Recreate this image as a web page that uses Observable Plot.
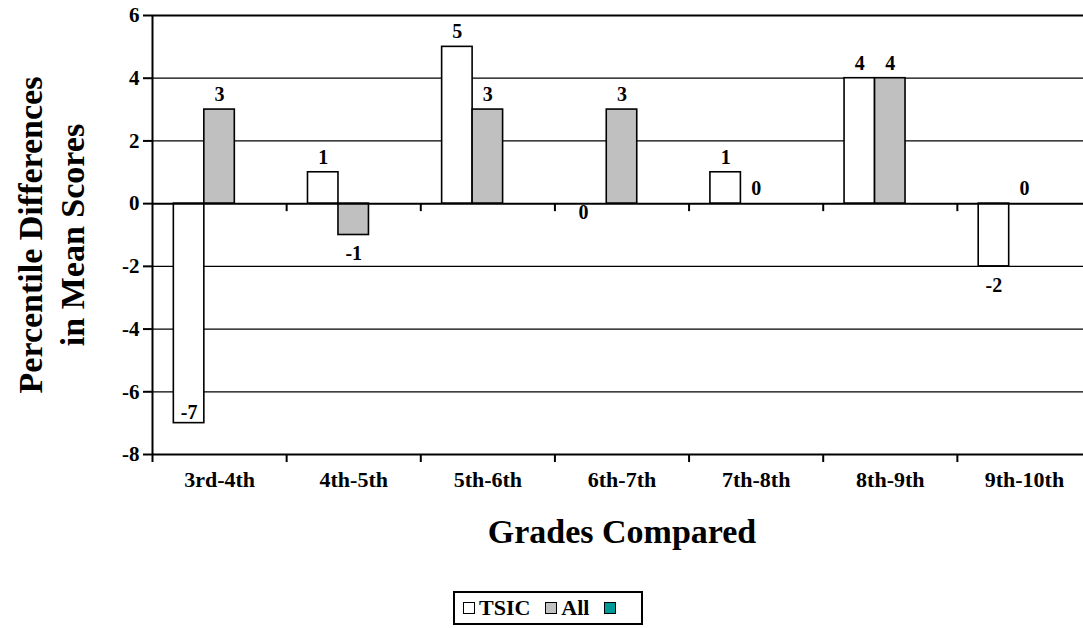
<!DOCTYPE html>
<html>
<head>
<meta charset="utf-8">
<script src="https://cdn.jsdelivr.net/npm/d3@7"></script>
<script src="https://cdn.jsdelivr.net/npm/@observablehq/plot@0.6"></script>
<style>
  html, body { margin: 0; padding: 0; background: #fff; }
  #wrap { width: 1083px; height: 628px; overflow: hidden; position: relative; font-family: "Liberation Serif", "Times New Roman", serif; }
  #legend { position: absolute; left: 453px; top: 591px; width: 190px; height: 34px; box-sizing: border-box;
            border: 2px solid #000; display: flex; align-items: center; padding-left: 8px;
            font-weight: bold; font-size: 22px; }
  #legend .sq { width: 10px; height: 10px; border: 1.5px solid #000; display: inline-block; margin-right: 4px; }
  #legend .lbl { margin-right: 15px; }
</style>
</head>
<body>
<div id="wrap"><div id="chart"></div><div id="legend"></div></div>
<script>
const categories = ["3rd-4th", "4th-5th", "5th-6th", "6th-7th", "7th-8th", "8th-9th", "9th-10th"];
const seriesNames = ["TSIC", "All", ""];
const tsicValues = [-7, 1, 5, 0, 1, 4, -2];
const allValues = [3, -1, 3, 3, 0, 4, 0];
const yTicks = [-8, -6, -4, -2, 0, 2, 4, 6];
const seriesColors = ["#ffffff", "#c0c0c0", "#009999"];

const rows = categories.flatMap((c, i) => [
  {cat: c, i, series: "TSIC", value: tsicValues[i]},
  {cat: c, i, series: "All", value: allValues[i]}
]);

// nested band within each category slot
const inner = d3.scaleBand().domain(seriesNames).range([0, 1]).paddingInner(0).paddingOuter(0.7);
const bx1 = d => d.i + inner(d.series);
const bx2 = d => d.i + inner(d.series) + inner.bandwidth();
const bxc = d => d.i + inner(d.series) + inner.bandwidth() / 2;
const fill = d => seriesColors[seriesNames.indexOf(d.series)];

const font = "Liberation Serif";
const labelOpts = {x: bxc, y: "value", text: d => String(d.value), fontSize: 20, fontWeight: "bold", fontFamily: font, fill: "#000", lineAnchor: "middle"};

const chart = Plot.plot({
  width: 1100,
  height: 588,
  marginLeft: 152,
  marginRight: 9,
  marginTop: 15,
  marginBottom: 134,
  style: {fontFamily: font, fontWeight: "bold", maxWidth: "none", background: "#fff", overflow: "visible"},
  x: {type: "linear", domain: [0, categories.length], axis: null},
  y: {domain: [-8, 6], axis: null},
  marks: [
    // gridlines
    Plot.ruleY(yTicks.filter(v => v !== 0 && v !== -8 && v !== 6), {stroke: "#000", strokeWidth: 1.3}),
    Plot.ruleY([6], {stroke: "#000", strokeWidth: 2.2}),
    Plot.ruleY([-8], {stroke: "#000", strokeWidth: 2}),
    // bars
    Plot.rectY(rows, {x1: bx1, x2: bx2, y: "value", fill, stroke: "#000", strokeWidth: 1.6}),
    // zero line & category ticks on it
    Plot.ruleY([0], {stroke: "#000", strokeWidth: 2}),
    Plot.ruleX(d3.range(1, categories.length), {y1: 0, y2: 0, insetBottom: -8, stroke: "#000", strokeWidth: 2}),
    // left axis line
    Plot.ruleX([0], {stroke: "#000", strokeWidth: 2}),
    // y axis
    Plot.axisY({ticks: yTicks, tickSize: 9, tickPadding: 4, tickFormat: d => String(d), fontSize: 21, fontWeight: "bold", fontFamily: font, stroke: "#000", strokeWidth: 2, label: null}),
    // x axis boundary ticks
    Plot.axisX({ticks: d3.range(0, categories.length + 1), tickSize: 8, tickFormat: () => "", stroke: "#000", strokeWidth: 2, label: null}),
    // x axis category labels
    Plot.axisX({ticks: categories.map((c, i) => i + 0.5), tickSize: 0, tickPadding: 17, tickFormat: v => categories[Math.floor(v)], fontSize: 22, fontWeight: "bold", fontFamily: font, label: null}),
    // data labels
    Plot.text(rows.filter(d => d.value > 0 || (d.value === 0 && d.series === "All")), {...labelOpts, dy: -15}),
    Plot.text(rows.filter(d => d.value < 0 && d.value > -6), {...labelOpts, dy: 19}),
    Plot.text(rows.filter(d => d.value <= -6), {...labelOpts, dy: -11}),
    Plot.text(rows.filter(d => d.value === 0 && d.series === "TSIC"), {...labelOpts, dy: 9, dx: -8}),
    // axis titles
    Plot.text(["Grades Compared"], {frameAnchor: "bottom", dy: 78, text: d => d, fontSize: 34, fontWeight: "bold", fontFamily: font, textAnchor: "middle", lineAnchor: "middle"}),
    Plot.text(["Percentile Differences\nin Mean Scores"], {frameAnchor: "left", dx: -103, rotate: -90, text: d => d, fontSize: 34, fontWeight: "bold", fontFamily: font, textAnchor: "middle", lineAnchor: "middle", lineHeight: 1.25})
  ]
});
document.getElementById("chart").appendChild(chart);

const legend = document.getElementById("legend");
seriesNames.forEach((name, k) => {
  const sq = document.createElement("span");
  sq.className = "sq";
  sq.style.background = seriesColors[k];
  legend.appendChild(sq);
  if (name) {
    const t = document.createElement("span");
    t.className = "lbl";
    t.textContent = name;
    legend.appendChild(t);
  }
});
</script>
</body>
</html>
